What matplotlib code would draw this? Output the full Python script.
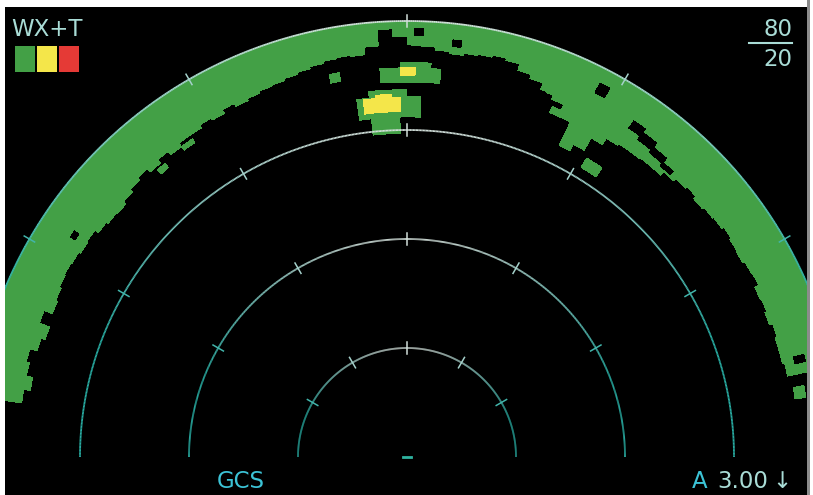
import numpy as np
import matplotlib.pyplot as plt
from matplotlib.patches import Wedge, Rectangle
from matplotlib.collections import LineCollection

# weather return levels
level_names = ["light", "moderate", "heavy"]
level_colors = ["#43a046", "#f4e64a", "#e53a36"]

# range rings (in ring units, outer ring = 4) and bearing ticks (deg from nose)
ring_radii = [1, 2, 3, 4]
tick_bearings = [-60, -30, 0, 30, 60]

# main band of returns: 2 deg azimuth bins, inner edge radius (4.0 = nothing)
band_az = list(range(-81, 82, 2))
band_inner = [
    3.57, 3.51, 3.57, 3.60, 3.53, 3.49, 3.59, 3.51, 3.53, 3.55,   # -81 .. -63
    3.56, 3.55, 3.53, 3.54, 3.50, 3.48, 3.47, 3.50, 3.53, 3.56,   # -61 .. -43
    3.52, 3.56, 3.52, 3.56, 3.56, 3.59, 3.57, 3.61, 3.58, 3.60,   # -41 .. -23
    3.62, 3.63, 3.65, 3.67, 3.69, 3.71, 3.72, 3.71, 3.78, 3.93,   # -21 .. -3
    3.86, 3.78, 3.77, 3.74, 3.72, 3.74, 3.75, 3.77, 3.75, 3.69,   # -1 .. 17
    3.65, 3.59, 3.54, 3.42, 3.18, 3.25, 3.38, 3.45, 3.47, 3.47,   # 19 .. 37
    3.48, 3.48, 3.52, 3.55, 3.57, 3.54, 3.56, 3.57, 3.59, 3.57,   # 39 .. 57
    3.56, 3.58, 3.59, 3.55, 3.56, 3.54, 3.57, 3.55, 3.55, 3.57,   # 59 .. 77
    4.00, 4.00,                                                   # 79 .. 81
]
band_outer = 4.0

# detached green returns: (az from, az to, r from, r to)
specks = [(-11.5, -10, 3.50, 3.58), (21, 22.5, 3.58, 3.63), (22.5, 24, 3.42, 3.48),
          (31, 34, 3.10, 3.20), (79.8, 81.5, 3.60, 3.70), (-36, -34, 3.48, 3.52),
          (-41, -39.5, 3.44, 3.49)]
# gaps inside the band
gaps = [(1, 2.2, 3.87, 3.93), (6.3, 7.5, 3.79, 3.85), (27.3, 28.8, 3.76, 3.86),
        (-56.8, -55.8, 3.64, 3.69), (34, 36, 3.64, 3.72), (36, 38.5, 3.60, 3.68),
        (38.5, 41, 3.57, 3.63), (41, 43, 3.54, 3.58), (75.5, 76.5, 3.66, 3.76)]

# storm cells ahead: (az from, az to, r from, r to, level)
cells = [
    (-4, 5, 3.44, 3.57, 0), (-1, 3.5, 3.57, 3.62, 0), (-1, 1.2, 3.50, 3.57, 1),
    (-8, 2.2, 3.12, 3.31, 0), (-6, 0, 3.31, 3.37, 0), (-6, -1.2, 2.97, 3.12, 0),
    (-7, -1.1, 3.17, 3.30, 1), (-5, -2.5, 3.30, 3.33, 1),
]

W, H = 813, 495
CX, CY, UNIT = 407, 457, 109.0
pale = "#a9dcd6"
cyan = "#3cc3d6"
teal = np.array([0.16, 0.68, 0.64])
white = np.array([0.82, 0.87, 0.85])

fig = plt.figure(figsize=(W / 100, H / 100), dpi=100, facecolor="white")
ax = fig.add_axes([5 / W, 0, 802 / W, 488 / H])
ax.set_facecolor("black")
ax.set_xlim((5 - CX) / UNIT, (807 - CX) / UNIT)
ax.set_ylim((CY - 495) / UNIT, (CY - 7) / UNIT)
ax.set_xticks([])
ax.set_yticks([])
for s in ax.spines.values():
    s.set_visible(False)


def wedge(a0, a1, r0, r1, color):
    w = Wedge((0, 0), r1, 90 - a1, 90 - a0, width=r1 - r0,
              facecolor=color, edgecolor="none", lw=0, antialiased=False, zorder=2)
    ax.add_patch(w)


for az, rin in zip(band_az, band_inner):
    if rin < band_outer:
        wedge(az - 1, az + 1, rin, band_outer, level_colors[0])
for a0, a1, r0, r1 in specks:
    wedge(a0, a1, r0, r1, level_colors[0])
for a0, a1, r0, r1 in gaps:
    wedge(a0, a1, r0, r1, "black")
for a0, a1, r0, r1, lv in cells:
    wedge(a0, a1, r0, r1, level_colors[lv])

# range rings, whiter ahead, teal to the sides
az = np.radians(np.linspace(-90, 90, 721))
for r in ring_radii:
    x, y = r * np.sin(az), r * np.cos(az)
    pts = np.column_stack([x, y])
    segs = np.stack([pts[:-1], pts[1:]], axis=1)
    mid = 0.5 * (az[:-1] + az[1:])
    w = np.clip((np.cos(mid) - 0.35) / 0.65, 0, 1) ** 1.3
    cols = teal[None, :] * (1 - w[:, None]) + white[None, :] * w[:, None]
    ax.add_collection(LineCollection(segs, colors=cols, linewidths=1.3, zorder=3))
    for b in tick_bearings:
        t = np.radians(b)
        wt = np.clip((np.cos(t) - 0.35) / 0.65, 0, 1) ** 1.3
        c = teal * (1 - wt) + white * wt
        ax.plot([(r - 0.055) * np.sin(t), (r + 0.055) * np.sin(t)],
                [(r - 0.055) * np.cos(t), (r + 0.055) * np.cos(t)],
                color=c, lw=1.1, zorder=3)

ax.plot([-0.04, 0.04], [0, 0], color="#2fb3a0", lw=2, zorder=3)

# frame edge on the right
fig.add_artist(Rectangle((807 / W, 0), 3 / W, 1, transform=fig.transFigure,
                         facecolor="#8c8c8c", edgecolor="none"))

fam = ["DejaVu Sans"]


def ftext(x, y, s, **kw):
    fig.text(x / W, 1 - y / H, s, family=fam, fontsize=16.5, va="center", **kw)


ftext(11, 30, "WX+T", color=pale)
for i, c in enumerate(level_colors):
    fig.add_artist(Rectangle(((15 + 22 * i) / W, 1 - 72 / H), 20 / W, 26 / H,
                             transform=fig.transFigure, facecolor=c, edgecolor="none"))

ftext(792, 29, "80", color=pale, ha="right")
fig.add_artist(plt.Line2D([749 / W, 792 / W], [1 - 43 / H, 1 - 43 / H],
                          transform=fig.transFigure, color=pale, lw=1.5))
ftext(792, 60, "20", color=pale, ha="right")

ftext(241, 481, "GCS", color=cyan, ha="center")
ftext(700, 481, "A", color=cyan, ha="center")
ftext(717, 481, "3.00", color=pale, ha="left")
ftext(782, 481, "↓", color=pale, ha="center")

fig.savefig("out.png", dpi=100, facecolor="white")
